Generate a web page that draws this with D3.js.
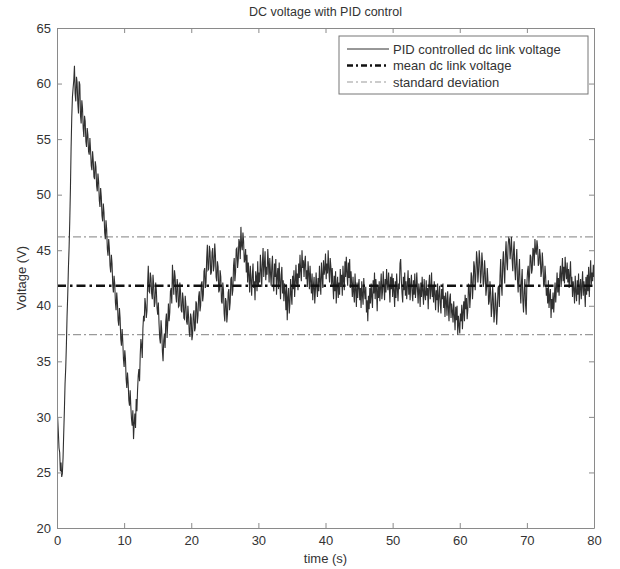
<!DOCTYPE html>
<html>
<head>
<meta charset="utf-8">
<script src="https://cdn.jsdelivr.net/npm/d3@7"></script>
<style>
  html, body { margin: 0; padding: 0; background: #fff; }
  svg { display: block; font-family: "Liberation Sans", Arial, Helvetica, sans-serif; }
</style>
</head>
<body>
<svg id="chart" width="620" height="569"></svg>
<script>
// DC link voltage samples, one row per second (10 samples per second, step 0.1 s)
const sampleStep = 0.1;
const voltage = [
  29.5, 29.9, 28.6, 27.2, 26.8, 25.1, 25.9, 24.6, 24.9, 26.3,
  28.5, 30.6, 33.0, 34.4, 36.5, 39.1, 41.0, 43.4, 45.2, 47.6,
  50.5, 54.2, 57.0, 58.8, 59.6, 60.3, 61.6, 59.1, 58.4, 60.6,
  60.1, 58.2, 57.3, 60.2, 59.9, 57.1, 56.4, 58.5, 57.8, 56.0,
  55.2, 57.1, 56.6, 54.8, 54.3, 56.0, 55.4, 53.9, 53.6, 55.1,
  54.0, 52.6, 52.2, 53.9, 53.1, 51.6, 51.4, 53.0, 52.5, 50.8,
  50.3, 51.9, 51.2, 49.5, 48.9, 50.6, 49.8, 48.1, 47.6, 49.2,
  48.4, 46.6, 46.0, 47.7, 46.9, 45.1, 44.5, 46.0, 45.2, 43.6,
  43.0, 44.6, 43.8, 41.9, 41.2, 42.7, 42.0, 40.3, 39.6, 41.2,
  40.3, 38.7, 38.2, 39.8, 38.9, 37.0, 36.4, 37.9, 36.8, 35.2,
  34.5, 36.0, 35.2, 33.4, 32.6, 34.0, 33.1, 31.5, 31.0, 32.4,
  30.9, 29.8, 29.2, 30.6, 28.0, 29.4, 30.3, 29.0, 31.6, 30.5,
  32.4, 33.7, 34.3, 33.2, 35.6, 37.0, 36.4, 35.3, 38.0, 39.1,
  38.6, 40.7, 40.1, 38.9, 39.5, 42.0, 43.6, 41.3, 41.2, 43.0,
  42.5, 41.1, 40.6, 42.8, 41.9, 39.9, 40.3, 42.1, 41.4, 39.8,
  39.2, 40.3, 38.4, 37.1, 36.6, 38.7, 37.8, 35.9, 35.0, 36.9,
  37.5, 36.2, 38.6, 39.3, 37.1, 38.5, 40.2, 38.6, 39.4, 41.3,
  41.6, 40.2, 43.7, 42.3, 41.0, 43.2, 42.6, 41.0, 40.3, 42.4,
  41.8, 39.9, 40.0, 42.1, 41.3, 39.6, 39.4, 41.2, 40.6, 38.9,
  38.8, 40.9, 40.1, 38.6, 38.3, 40.0, 39.0, 37.6, 37.2, 39.3,
  38.9, 36.9, 37.4, 39.2, 39.6, 37.7, 38.0, 40.4, 40.2, 38.4,
  39.1, 40.8, 41.3, 39.5, 40.0, 42.0, 42.2, 40.4, 41.0, 43.1,
  43.4, 41.6, 42.1, 44.3, 45.5, 43.2, 43.3, 45.4, 44.9, 42.8,
  43.0, 44.8, 45.2, 43.1, 43.6, 45.6, 44.6, 42.6, 42.2, 44.0,
  43.5, 41.2, 41.4, 43.2, 42.6, 40.4, 40.2, 42.1, 41.4, 39.3,
  38.6, 40.7, 40.4, 38.5, 39.3, 41.2, 41.5, 39.6, 40.3, 42.4,
  42.6, 40.9, 41.4, 43.6, 44.3, 42.2, 43.0, 45.1, 45.2, 43.4,
  44.1, 46.0, 45.7, 44.2, 47.1, 45.4, 45.0, 46.6, 45.8, 43.9,
  44.2, 45.1, 43.0, 44.6, 42.1, 43.9, 42.8, 41.2, 43.6, 42.4,
  40.9, 42.7, 43.8, 41.6, 42.2, 40.5, 43.1, 42.6, 41.3, 44.0,
  41.8, 43.0, 42.1, 44.6, 43.3, 41.7, 43.9, 45.2, 42.6, 43.7,
  44.9, 42.3, 43.5, 42.8, 45.1, 43.9, 42.1, 44.3, 43.0, 41.8,
  43.6, 44.5, 42.0, 41.3, 43.8, 42.6, 44.2, 41.0, 42.7, 43.4,
  41.5, 43.9, 42.2, 40.6, 42.8, 43.5, 41.1, 42.3, 40.4, 42.0,
  41.3, 39.6, 41.9, 38.7, 40.8, 41.6, 39.3, 40.2, 42.4, 41.0,
  40.1, 42.7, 41.5, 43.2, 40.8, 42.1, 43.7, 41.9, 42.9, 41.4,
  43.8, 42.5, 44.6, 43.1, 42.2, 45.0, 43.4, 44.1, 42.6, 43.9,
  44.5, 42.4, 43.2, 41.7, 44.0, 42.9, 41.5, 43.6, 42.2, 41.1,
  42.9, 40.5, 41.8, 42.6, 40.2, 41.4, 43.0, 41.7, 40.8, 42.5,
  41.3, 43.6, 42.2, 41.0, 43.9, 42.7, 41.6, 44.1, 42.8, 43.3,
  44.7, 42.4, 43.8, 42.9, 45.0, 43.2, 42.1, 44.3, 43.5, 41.9,
  43.4, 42.0, 40.6, 42.7, 41.3, 43.1, 40.2, 41.8, 42.6, 40.7,
  42.1, 41.0, 43.3, 41.7, 42.8, 40.9, 43.6, 42.3, 41.4, 44.0,
  42.6, 44.4, 43.0, 41.8, 43.9, 42.5, 44.2, 41.6, 43.1, 42.0,
  40.8, 42.6, 41.2, 40.3, 42.9, 41.5, 39.9, 42.1, 40.7, 41.8,
  42.4, 40.5, 41.6, 39.8, 42.2, 41.0, 40.1, 42.5, 41.3, 40.6,
  41.7, 39.4, 40.5, 38.6, 40.9, 39.7, 41.6, 40.2, 42.0, 40.8,
  39.8, 42.3, 41.1, 43.0, 40.6, 42.4, 41.5, 39.5, 41.9, 40.7,
  42.2, 40.4, 41.7, 42.9, 40.6, 41.3, 43.1, 41.8, 40.5, 42.4,
  41.2, 43.3, 42.0, 41.4, 43.0, 41.7, 40.3, 42.6, 41.5, 42.9,
  40.8, 42.5, 41.3, 39.9, 42.2, 40.7, 42.9, 41.6, 40.4, 42.0,
  41.5, 43.8, 44.2, 42.3, 41.1, 40.3, 42.6, 41.4, 43.0, 40.9,
  42.2, 40.6, 41.8, 43.2, 41.0, 42.5, 40.5, 41.9, 42.8, 41.2,
  40.4, 42.3, 41.0, 42.9, 40.7, 41.6, 43.0, 41.5, 40.2, 42.0,
  41.4, 39.9, 42.1, 40.8, 42.6, 41.3, 40.1, 42.4, 41.0, 40.5,
  42.3, 40.9, 41.6, 39.7, 41.9, 42.8, 40.6, 41.5, 43.0, 40.8,
  41.7, 40.3, 42.2, 41.1, 39.6, 41.4, 40.5, 42.0, 39.4, 40.9,
  41.8, 40.2, 39.3, 41.5, 40.6, 42.0, 39.8, 40.9, 39.0, 41.2,
  40.4, 39.1, 41.3, 39.9, 38.6, 40.6, 41.1, 38.9, 40.2, 39.5,
  38.5, 40.4, 39.2, 37.8, 39.9, 38.7, 40.0, 37.4, 39.1, 38.3,
  37.5, 39.3, 38.6, 40.1, 37.9, 39.5, 40.4, 38.6, 41.0, 39.7,
  40.7, 38.8, 39.6, 41.9, 41.8, 39.8, 40.9, 43.0, 42.6, 40.6,
  41.9, 44.0, 43.5, 41.4, 42.8, 44.9, 44.2, 42.1, 43.1, 45.0,
  44.0, 42.0, 42.9, 44.8, 43.8, 41.7, 42.2, 44.1, 43.0, 40.9,
  41.6, 43.4, 42.3, 40.1, 40.4, 42.2, 41.2, 39.0, 39.8, 41.7,
  40.6, 38.5, 39.3, 41.2, 40.2, 38.3, 39.6, 41.6, 41.8, 39.9,
  42.7, 44.2, 41.9, 40.9, 43.8, 44.9, 43.1, 42.0, 44.6, 45.8,
  44.0, 43.2, 45.4, 46.1, 46.0, 44.2, 45.1, 46.2, 44.2, 43.1,
  44.9, 45.8, 43.4, 42.3, 44.0, 45.1, 42.3, 41.2, 43.1, 44.2,
  41.4, 40.2, 42.2, 43.3, 40.5, 39.4, 41.3, 42.4, 40.1, 39.2,
  42.0, 43.1, 43.6, 41.8, 42.8, 44.6, 44.4, 42.9, 43.3, 45.2,
  45.0, 43.6, 46.0, 44.9, 44.6, 45.9, 45.3, 43.6, 43.8, 45.1,
  44.5, 42.6, 43.1, 44.8, 43.7, 41.8, 41.9, 43.6, 42.6, 40.9,
  41.6, 40.2, 42.3, 39.8, 40.9, 41.5, 38.9, 40.6, 39.7, 41.2,
  39.4, 40.8, 42.1, 40.3, 41.6, 43.0, 41.2, 42.5, 40.9, 42.8,
  43.6, 41.7, 42.9, 44.3, 42.2, 43.5, 42.0, 44.4, 43.1, 42.4,
  43.9, 42.1, 43.3, 41.6, 42.8, 44.0, 41.9, 42.6, 40.8, 42.2,
  41.5, 40.2, 42.7, 41.3, 40.4, 42.3, 41.0, 42.9, 40.1, 41.7,
  42.4, 40.6, 41.8, 43.1, 40.9, 42.2, 41.4, 39.9, 42.6, 41.0,
  42.8, 41.3, 43.5, 40.8, 42.6, 44.1, 41.9, 43.0, 42.2, 43.7,
  42.6
];

// Reference levels
const meanVoltage = 41.8;
const stdBand = [46.2, 37.4];

// Axis ticks
const xTicks = [0, 10, 20, 30, 40, 50, 60, 70, 80];
const yTicks = [20, 25, 30, 35, 40, 45, 50, 55, 60, 65];

const legendLabels = [
  "PID controlled dc link voltage",
  "mean dc link voltage",
  "standard deviation"
];

const svg = d3.select("#chart");
const plot = { left: 57, right: 594, top: 28, bottom: 528 };

const x = d3.scaleLinear().domain([0, 80]).range([plot.left, plot.right]);
const y = d3.scaleLinear().domain([20, 65]).range([plot.bottom, plot.top]);

const axisColor = "#8a8a8a";
const textColor = "#333";

const series = voltage.map((v, i) => ({ t: i * sampleStep, v }));

svg.append("clipPath").attr("id", "plot-clip")
  .append("rect")
  .attr("x", plot.left).attr("y", plot.top)
  .attr("width", plot.right - plot.left).attr("height", plot.bottom - plot.top);

const g = svg.append("g").attr("clip-path", "url(#plot-clip)");

// Standard deviation band edges
const dashStd = "8,3,2,3";
const dashMean = "9,4,2.5,4";
stdBand.forEach(level => {
  g.append("line")
    .attr("x1", x(0)).attr("x2", x(80))
    .attr("y1", y(level)).attr("y2", y(level))
    .attr("stroke", "#9a9a9a").attr("stroke-width", 1.2)
    .attr("stroke-dasharray", dashStd);
});

// Voltage trace
g.append("path")
  .datum(series)
  .attr("fill", "none")
  .attr("stroke", "#303030")
  .attr("stroke-width", 1.1)
  .attr("stroke-linejoin", "miter")
  .attr("d", d3.line().x(d => x(d.t)).y(d => y(d.v)));

// Mean line
g.append("line")
  .attr("x1", x(0)).attr("x2", x(80))
  .attr("y1", y(meanVoltage)).attr("y2", y(meanVoltage))
  .attr("stroke", "#111").attr("stroke-width", 2.6)
  .attr("stroke-dasharray", dashMean);

// Axes box with inward ticks on all four sides
const tickLen = 5;
const axisBottom = d3.axisBottom(x).tickValues(xTicks).tickSizeInner(-tickLen).tickSizeOuter(0).tickPadding(8);
const axisTop = d3.axisTop(x).tickValues(xTicks).tickSizeInner(-tickLen).tickSizeOuter(0).tickFormat("");
const axisLeft = d3.axisLeft(y).tickValues(yTicks).tickSizeInner(-tickLen).tickSizeOuter(0).tickPadding(6);
const axisRight = d3.axisRight(y).tickValues(yTicks).tickSizeInner(-tickLen).tickSizeOuter(0).tickFormat("");

function styleAxis(sel) {
  sel.selectAll("path.domain").attr("stroke", axisColor).attr("stroke-width", 1);
  sel.selectAll(".tick line").attr("stroke", axisColor);
  sel.selectAll(".tick text").attr("fill", textColor)
    .style("font-size", "13px")
    .style("font-family", "'Liberation Sans', Arial, sans-serif");
}

svg.append("g").attr("transform", `translate(0,${plot.bottom})`).call(axisBottom).call(styleAxis);
svg.append("g").attr("transform", `translate(0,${plot.top})`).call(axisTop).call(styleAxis);
svg.append("g").attr("transform", `translate(${plot.left},0)`).call(axisLeft).call(styleAxis);
svg.append("g").attr("transform", `translate(${plot.right},0)`).call(axisRight).call(styleAxis);

// Title and axis labels
svg.append("text")
  .attr("x", (plot.left + plot.right) / 2).attr("y", 16)
  .attr("text-anchor", "middle").attr("fill", textColor)
  .style("font-size", "12.5px")
  .text("DC voltage with PID control");

svg.append("text")
  .attr("x", (plot.left + plot.right) / 2).attr("y", 563)
  .attr("text-anchor", "middle").attr("fill", textColor)
  .style("font-size", "13px")
  .text("time (s)");

svg.append("text")
  .attr("transform", `translate(26,${(plot.top + plot.bottom) / 2}) rotate(-90)`)
  .attr("text-anchor", "middle").attr("fill", textColor)
  .style("font-size", "13px")
  .text("Voltage (V)");

// Legend
const legend = svg.append("g").attr("transform", "translate(339,36)");
legend.append("rect")
  .attr("width", 249).attr("height", 58)
  .attr("fill", "#fff").attr("stroke", "#777").attr("stroke-width", 1);

const legendStyles = [
  { stroke: "#303030", width: 1, dash: null },
  { stroke: "#111", width: 2.6, dash: "6,3,2,3" },
  { stroke: "#9a9a9a", width: 1.2, dash: "6,3,2,3" }
];
legendLabels.forEach((label, i) => {
  const yy = 13 + i * 16.5;
  const st = legendStyles[i];
  const ln = legend.append("line")
    .attr("x1", 8).attr("x2", 50).attr("y1", yy).attr("y2", yy)
    .attr("stroke", st.stroke).attr("stroke-width", st.width);
  if (st.dash) ln.attr("stroke-dasharray", st.dash);
  legend.append("text")
    .attr("x", 54).attr("y", yy + 4.5)
    .attr("fill", textColor)
    .style("font-size", "13px")
    .text(label);
});
</script>
</body>
</html>
